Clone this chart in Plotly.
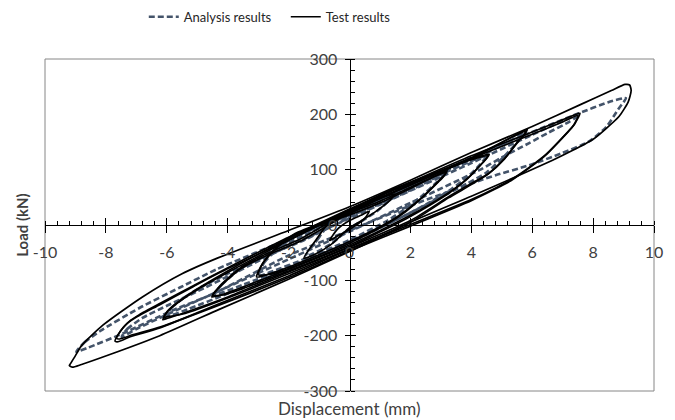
import plotly.graph_objects as go

# ---------------- data (displacement mm, load kN) ----------------
# Test results: hysteresis loops (neg tip -> upper branch -> pos tip -> lower branch -> neg tip)
test_loop_1 = [(-0.65, -28), (-0.4, -8), (0.0, 8), (0.4, 18), (0.65, 25),
               (0.5, 12), (0.0, -8), (-0.4, -20), (-0.65, -28)]
test_loop_2 = [(-1.5, -60), (-1.1, -27), (-0.66, 5), (0.0, 20), (0.7, 40), (1.2, 52), (1.48, 56),
               (1.35, 46), (0.9, 26), (0.4, 8), (0.0, -5), (-0.6, -35), (-1.1, -52), (-1.5, -60)]
test_loop_3 = [(-3.05, -94), (-2.85, -69), (-2.4, -42), (-1.87, -20), (-0.75, 4), (0.0, 18), (1.0, 40),
               (2.0, 66), (2.8, 88), (3.21, 98),
               (3.1, 90), (2.95, 81), (2.4, 51), (1.87, 27), (1.3, 6), (0.0, -30), (-1.5, -65),
               (-2.5, -86), (-3.05, -94)]
test_loop_3b = [(-3.0, -90), (-2.8, -65), (-2.35, -38), (-1.8, -16), (-0.7, 8), (0.0, 22), (1.0, 43),
                (2.0, 68), (2.8, 88), (3.18, 95),
                (3.08, 87), (2.92, 78), (2.36, 48), (1.84, 24), (1.27, 3), (0.0, -33), (-1.5, -68),
                (-2.5, -88), (-3.0, -90)]
test_loop_4 = [(-4.52, -130), (-4.26, -112), (-3.6, -80), (-2.72, -55), (-1.64, -30), (0.0, 22),
               (1.3, 60), (2.95, 96), (4.0, 119), (4.59, 128),
               (4.5, 120), (4.36, 112), (3.93, 87), (3.38, 63), (2.72, 40), (1.87, 14), (0.0, -36),
               (-2.0, -80), (-3.5, -112), (-4.2, -126), (-4.52, -130)]
test_loop_4b = [(-4.5, -127), (-4.22, -108), (-3.55, -76), (-2.65, -50), (-1.6, -25), (0.0, 26),
                (1.3, 62), (2.95, 97), (4.0, 118), (4.55, 125),
                (4.45, 117), (4.3, 108), (3.88, 84), (3.33, 60), (2.68, 37), (1.85, 11), (0.0, -39),
                (-2.0, -83), (-3.5, -115), (-4.2, -127), (-4.5, -127)]
test_loop_5 = [(-6.13, -171), (-6.0, -158), (-5.6, -139), (-5.0, -117), (-4.0, -86), (-2.0, -28),
               (0.0, 26), (2.0, 73), (4.0, 120), (5.2, 155), (5.84, 173),
               (5.75, 164), (5.57, 153), (5.14, 123), (4.59, 94), (4.03, 76), (3.28, 52), (2.0, 8),
               (0.0, -40), (-2.0, -85), (-4.0, -130), (-5.4, -158), (-6.0, -169), (-6.13, -171)]
test_loop_5b = [(-6.1, -167), (-5.97, -155), (-5.55, -136), (-4.95, -114), (-4.0, -83), (-2.0, -24),
                (0.0, 29), (2.0, 76), (4.0, 122), (5.2, 155), (5.8, 170),
                (5.7, 161), (5.5, 149), (5.1, 120), (4.55, 92), (4.0, 73), (3.25, 49), (2.0, 5),
                (0.0, -43), (-2.0, -88), (-4.0, -132), (-5.4, -160), (-6.0, -166), (-6.1, -167)]
test_loop_6 = [(-7.7, -210), (-7.55, -194), (-7.3, -178), (-6.98, -166), (-6.23, -144), (-5.15, -112),
               (-4.26, -86), (-2.0, -27), (0.0, 28), (2.0, 77), (4.0, 125), (6.0, 168), (7.0, 190),
               (7.57, 202),
               (7.45, 188), (7.38, 181), (6.98, 157), (6.46, 128), (5.9, 104), (5.34, 83), (4.8, 67),
               (4.0, 46), (2.0, 1), (0.0, -44), (-2.0, -92), (-4.26, -142), (-6.23, -186),
               (-7.2, -202), (-7.6, -211), (-7.7, -210)]
test_loop_6b = [(-7.65, -205), (-7.5, -190), (-7.25, -175), (-6.9, -162), (-6.2, -141), (-5.1, -109),
                (-4.2, -83), (-2.0, -22), (0.0, 24), (2.0, 72), (4.0, 120), (6.0, 164), (7.0, 186),
                (7.5, 198),
                (7.4, 184), (7.3, 176), (6.9, 152), (6.4, 124), (5.85, 101), (5.3, 80), (4.75, 64),
                (4.0, 44), (2.0, -2), (0.0, -47), (-2.0, -95), (-4.2, -143), (-6.2, -184),
                (-7.1, -198), (-7.55, -206), (-7.65, -205)]
test_loop_7 = [(-9.18, -252), (-9.0, -236), (-8.8, -218), (-8.1, -181), (-6.8, -130), (-5.5, -88),
               (-4.3, -59), (-2.0, -10), (0.0, 33), (2.0, 81), (4.0, 131), (6.0, 178), (7.6, 218),
               (8.6, 243), (9.05, 254), (9.2, 253),
               (9.25, 243), (9.15, 222), (8.85, 196), (8.4, 173), (8.0, 155), (7.3, 134), (6.67, 117),
               (5.5, 88), (4.0, 52), (2.0, 5), (0.0, -48), (-2.0, -98), (-4.26, -152), (-6.23, -200),
               (-7.87, -234), (-8.8, -252), (-9.1, -257), (-9.2, -254), (-9.18, -252)]

# Analysis results
analysis_loop_2 = [(-1.45, -57), (-1.05, -26), (-0.62, 4), (0.0, 18), (0.7, 38), (1.45, 54),
                   (1.3, 44), (0.9, 25), (0.4, 7), (0.0, -6), (-0.6, -34), (-1.45, -57)]
analysis_loop_3 = [(-3.0, -92), (-2.8, -68), (-2.35, -42), (-1.8, -21), (-0.75, 2), (0.0, 16), (1.0, 38),
                   (2.0, 63), (2.8, 85), (3.15, 95),
                   (3.05, 87), (2.9, 79), (2.35, 51), (1.8, 28), (1.25, 8), (0.0, -27), (-1.5, -62),
                   (-2.5, -83), (-3.0, -92)]
analysis_loop_4 = [(-4.45, -126), (-4.2, -108), (-3.55, -78), (-2.7, -55), (-1.6, -30), (0.0, 14),
                   (1.3, 56), (2.9, 92), (4.0, 116), (4.5, 125),
                   (4.3, 110), (3.9, 88), (3.35, 65), (2.7, 43), (1.85, 18), (0.0, -30), (-2.0, -76),
                   (-3.5, -108), (-4.45, -126)]
analysis_loop_5 = [(-6.0, -165), (-5.85, -150), (-5.4, -130), (-4.8, -110), (-4.0, -88), (-2.0, -32),
                   (0.0, 20), (2.0, 68), (4.0, 116), (5.2, 150), (5.8, 168),
                   (5.6, 155), (5.1, 125), (4.5, 95), (3.9, 76), (3.2, 56), (2.0, 22), (0.0, -32),
                   (-2.0, -80), (-4.0, -124), (-5.3, -152), (-6.0, -165)]
analysis_loop_6 = [(-7.48, -202), (-7.3, -188), (-6.8, -168), (-6.0, -146), (-5.0, -120), (-4.0, -93),
                   (-2.0, -38), (0.0, 12), (2.0, 62), (4.0, 112), (6.0, 163), (7.0, 188), (7.54, 202),
                   (7.4, 193), (7.2, 186), (6.5, 166), (5.9, 148), (5.0, 122), (4.26, 99), (2.0, 40),
                   (0.0, -12), (-2.0, -62), (-4.0, -112), (-6.0, -162), (-7.0, -188), (-7.48, -202)]
analysis_loop_7 = [(-8.97, -229), (-8.7, -212), (-8.2, -192), (-6.9, -150), (-5.57, -113), (-4.36, -80),
                   (-2.0, -25), (0.0, 22), (2.0, 72), (4.26, 128), (5.9, 166), (7.54, 202), (8.5, 222),
                   (9.0, 229), (9.08, 229),
                   (9.0, 222), (8.85, 211), (8.43, 177), (7.87, 151), (6.98, 130), (5.9, 108), (4.8, 90),
                   (4.26, 80), (2.0, 35), (0.0, -10), (-2.0, -55), (-4.5, -125), (-5.8, -154),
                   (-7.44, -196), (-8.6, -222), (-8.97, -229)]

test_loops = [test_loop_1, test_loop_2, test_loop_3, test_loop_3b, test_loop_4, test_loop_4b,
              test_loop_5, test_loop_5b, test_loop_6, test_loop_6b, test_loop_7]
analysis_loops = [analysis_loop_2, analysis_loop_3, analysis_loop_4, analysis_loop_5,
                  analysis_loop_6, analysis_loop_7]

x_tick_vals = [-10, -8, -6, -4, -2, 0, 2, 4, 6, 8, 10]
x_tick_text = ["-10", "-8", "-6", "-4", "-2", "0", "2", "4", "6", "8", "10"]
y_tick_vals = [-300, -200, -100, 0, 100, 200, 300]
y_tick_text = ["-300", "-200", "-100", "0", "100", "200", "300"]

# ---------------- figure ----------------
FONT = "Lato"
TXT = "#404040"
SLATE = "#44546A"

fig = go.Figure()

for i, loop in enumerate(analysis_loops):
    fig.add_trace(go.Scatter(
        x=[p[0] for p in loop], y=[p[1] for p in loop], mode="lines",
        line=dict(color=SLATE, width=2.6, dash="6px,3px", shape="spline", smoothing=0.6),
        name="Analysis results", legendgroup="a", showlegend=(i == 0), hoverinfo="skip"))

for i, loop in enumerate(test_loops):
    fig.add_trace(go.Scatter(
        x=[p[0] for p in loop], y=[p[1] for p in loop], mode="lines",
        line=dict(color="#000000", width=1.7, shape="spline", smoothing=0.6),
        name="Test results", legendgroup="t", showlegend=(i == 0), hoverinfo="skip"))

# empty trace carrying the overlay axes used for the upper/right halves of the crossing major ticks
fig.add_trace(go.Scatter(x=[], y=[], xaxis="x2", yaxis="y2", showlegend=False, hoverinfo="skip"))

axis_font = dict(family=FONT, size=16, color=TXT)

fig.update_layout(
    width=675, height=420,
    margin=dict(l=45, r=21, t=59, b=29, autoexpand=False),
    paper_bgcolor="white", plot_bgcolor="white",
    font=dict(family=FONT, color=TXT),
    xaxis=dict(range=[-10, 10], tickvals=x_tick_vals, ticktext=x_tick_text, ticks="outside", ticklen=7,
               tickcolor="#000", showline=True, linecolor="#000", linewidth=1, anchor="free", position=0.5,
               showgrid=False, zeroline=False, tickfont=axis_font, ticklabelstandoff=6,
               minor=dict(dtick=0.4, tick0=0, ticks="inside", ticklen=4, tickcolor="#000", showgrid=False)),
    yaxis=dict(range=[-300, 300], tickvals=y_tick_vals, ticktext=y_tick_text, ticks="outside", ticklen=5,
               tickcolor="#000", showline=True, linecolor="#000", linewidth=1, anchor="free", position=0.5,
               showgrid=False, zeroline=False, tickfont=axis_font, ticklabelstandoff=4,
               minor=dict(dtick=20, tick0=0, ticks="inside", ticklen=4, tickcolor="#000", showgrid=False)),
    xaxis2=dict(range=[-10, 10], tickvals=x_tick_vals, ticks="inside", ticklen=7, tickcolor="#000",
                overlaying="x", anchor="free", position=0.5, showticklabels=False,
                showline=False, showgrid=False, zeroline=False),
    yaxis2=dict(range=[-300, 300], tickvals=y_tick_vals, ticks="inside", ticklen=5, tickcolor="#000",
                overlaying="y", anchor="free", position=0.5, showticklabels=False,
                showline=False, showgrid=False, zeroline=False),
    legend=dict(orientation="h", xref="container", yref="container", x=0.213, xanchor="left",
                y=0.96, yanchor="middle", entrywidth=97,
                font=dict(family=FONT, size=13, color="#262626"),
                bgcolor="rgba(0,0,0,0)", tracegroupgap=0),
    shapes=[dict(type="rect", xref="paper", yref="paper", x0=0, y0=0, x1=1, y1=1,
                 line=dict(color="#868686", width=1), layer="below")],
    annotations=[
        dict(text="Displacement (mm)", xref="paper", yref="paper", x=0.5, y=-0.052,
             xanchor="center", yanchor="middle", showarrow=False,
             font=dict(family=FONT, size=17, color=TXT)),
        dict(text="<b>Load (kN)</b>", xref="paper", yref="paper", x=-0.038, y=0.5,
             xanchor="center", yanchor="middle", textangle=-90, showarrow=False,
             font=dict(family=FONT, size=15, color=TXT)),
    ],
)

fig.write_html("out.html", config={"displayModeBar": False},
               post_script="document.body.style.margin='0px';")
